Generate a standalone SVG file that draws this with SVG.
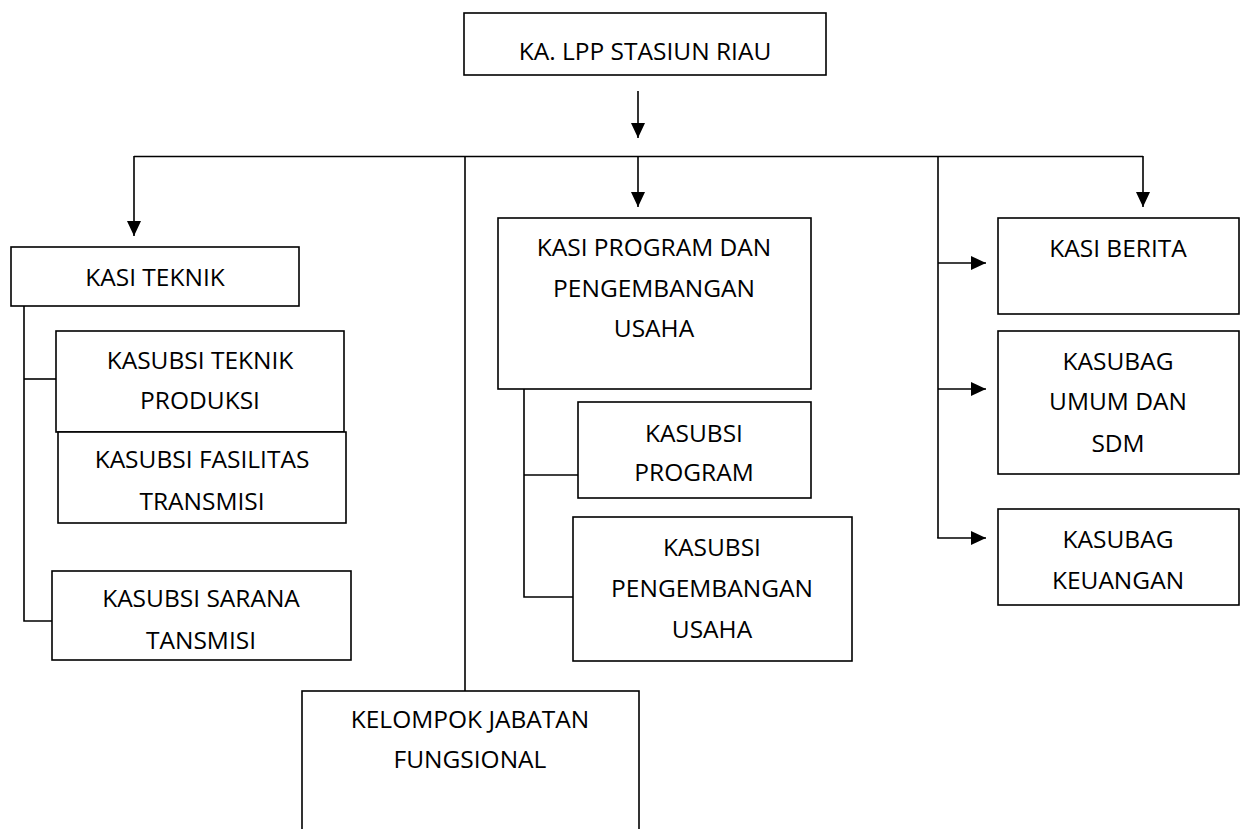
<svg xmlns="http://www.w3.org/2000/svg" width="1242" height="829" viewBox="0 0 1242 829">
<style>
.box{fill:#fff;stroke:#000;stroke-width:1.6}
.t{font-family:"Open Sans","Liberation Sans",sans-serif;font-size:24.5px;fill:#000;text-anchor:middle}
.ln{fill:none;stroke:#000;stroke-width:1.6}
</style>
<defs>
<marker id="ah" viewBox="0 0 15 14" refX="15" refY="7" markerWidth="15" markerHeight="14" markerUnits="userSpaceOnUse" orient="auto">
<path d="M0,0 L15,7 L0,14 Z" fill="#000"/>
</marker>
</defs>
<g id="connectors">
<line class="ln" x1="638" y1="91" x2="638" y2="138" marker-end="url(#ah)"/>
<line class="ln" x1="134" y1="156.5" x2="1143" y2="156.5"/>
<line class="ln" x1="134" y1="156" x2="134" y2="236" marker-end="url(#ah)"/>
<line class="ln" x1="638" y1="156" x2="638" y2="207" marker-end="url(#ah)"/>
<line class="ln" x1="1143" y1="156" x2="1143" y2="207" marker-end="url(#ah)"/>
<line class="ln" x1="465" y1="156" x2="465" y2="691"/>
<line class="ln" x1="938" y1="156" x2="938" y2="538"/>
<line class="ln" x1="938" y1="263" x2="986" y2="263" marker-end="url(#ah)"/>
<line class="ln" x1="938" y1="389" x2="986" y2="389" marker-end="url(#ah)"/>
<line class="ln" x1="937.2" y1="538" x2="986" y2="538" marker-end="url(#ah)"/>
<polyline class="ln" points="24,306 24,621 52,621"/>
<line class="ln" x1="24" y1="379" x2="56" y2="379"/>
<polyline class="ln" points="524,389 524,597 573,597"/>
<line class="ln" x1="524" y1="475" x2="578" y2="475"/>
</g>
<g id="ka-lpp">
<rect class="box" x="464" y="13" width="362" height="62"/>
<text class="t" x="645" y="60">KA. LPP STASIUN RIAU</text>
</g>
<g id="kasi-teknik">
<rect class="box" x="11" y="247" width="288" height="59"/>
<text class="t" x="155" y="286">KASI TEKNIK</text>
</g>
<g id="kasubsi-teknik-produksi">
<rect class="box" x="56" y="331" width="288" height="101"/>
<text class="t" x="200" y="369">KASUBSI TEKNIK</text>
<text class="t" x="200" y="409">PRODUKSI</text>
</g>
<g id="kasubsi-fasilitas-transmisi">
<rect class="box" x="58" y="432" width="288" height="91"/>
<text class="t" x="202" y="468">KASUBSI FASILITAS</text>
<text class="t" x="202" y="510">TRANSMISI</text>
</g>
<g id="kasubsi-sarana-tansmisi">
<rect class="box" x="52" y="571" width="299" height="89"/>
<text class="t" x="201" y="607">KASUBSI SARANA</text>
<text class="t" x="201" y="649">TANSMISI</text>
</g>
<g id="kasi-program">
<rect class="box" x="498" y="218" width="313" height="171"/>
<text class="t" x="654" y="256">KASI PROGRAM DAN</text>
<text class="t" x="654" y="297">PENGEMBANGAN</text>
<text class="t" x="654" y="337">USAHA</text>
</g>
<g id="kasubsi-program">
<rect class="box" x="578" y="402" width="233" height="96"/>
<text class="t" x="694" y="442">KASUBSI</text>
<text class="t" x="694" y="481">PROGRAM</text>
</g>
<g id="kasubsi-pengembangan-usaha">
<rect class="box" x="573" y="517" width="279" height="144"/>
<text class="t" x="712" y="556">KASUBSI</text>
<text class="t" x="712" y="597">PENGEMBANGAN</text>
<text class="t" x="712" y="638">USAHA</text>
</g>
<g id="kasi-berita">
<rect class="box" x="998" y="218" width="241" height="96"/>
<text class="t" x="1118" y="257">KASI BERITA</text>
</g>
<g id="kasubag-umum">
<rect class="box" x="998" y="331" width="241" height="143"/>
<text class="t" x="1118" y="370">KASUBAG</text>
<text class="t" x="1118" y="410">UMUM DAN</text>
<text class="t" x="1118" y="452">SDM</text>
</g>
<g id="kasubag-keuangan">
<rect class="box" x="998" y="509" width="241" height="96"/>
<text class="t" x="1118" y="548">KASUBAG</text>
<text class="t" x="1118" y="589">KEUANGAN</text>
</g>
<g id="kelompok-jabatan">
<rect class="box" x="302" y="691" width="337" height="160"/>
<text class="t" x="470" y="728">KELOMPOK JABATAN</text>
<text class="t" x="470" y="768">FUNGSIONAL</text>
</g>
</svg>
